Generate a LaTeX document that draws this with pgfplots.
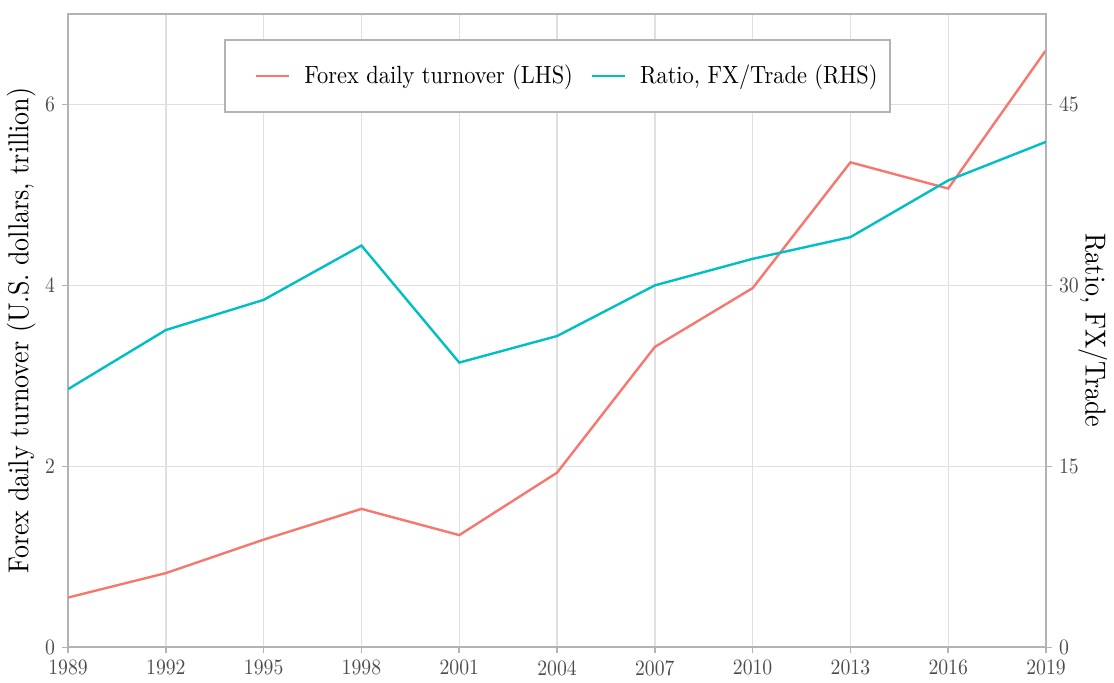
\documentclass[border=0pt]{standalone}
\usepackage{fontspec}
\setmainfont{lmroman10-regular.otf}[FakeStretch=0.9]
\usepackage{pgfplots}
\pgfplotsset{compat=1.18}
\definecolor{fxred}{HTML}{F8766D}
\definecolor{fxcyan}{HTML}{00BFC4}
\definecolor{framegray}{HTML}{B3B3B3}
\definecolor{gridgray}{HTML}{E0E0E0}
\definecolor{tickgray}{HTML}{4D4D4D}

\pgfplotsset{
  fxbase/.style={
    scale only axis, width=491pt, height=318pt,
    xmin=1989, xmax=2019,
    tick align=outside, major tick length=3pt,
    every tick/.style={framegray, line width=0.8pt},
    tick label style={font=\fontsize{11}{13}\selectfont, color=tickgray},
    /pgf/number format/assume math mode=true,
    /pgf/number format/1000 sep={},
    label style={font=\fontsize{14.5}{16}\selectfont},
  },
}

\begin{document}
\begin{tikzpicture}
\begin{axis}[fxbase, name=ax,
  ymin=0, ymax=7,
  xtick={1989,1992,...,2019}, ytick={0,2,4,6},
  xtick pos=bottom, ytick pos=left,
  axis line style={framegray, line width=1pt},
  grid=major, grid style={gridgray, line width=0.7pt},
  ylabel={Forex daily turnover (U.S. dollars, trillion)},
  ylabel style={yshift=-2pt},
]
\addplot[fxred, line width=1.2pt] coordinates {
  (1989,0.55) (1992,0.82) (1995,1.19) (1998,1.53) (2001,1.24) (2004,1.93)
  (2007,3.32) (2010,3.97) (2013,5.36) (2016,5.07) (2019,6.60)
};
\draw[framegray, line width=1.6pt] (rel axis cs:0,0) -- (rel axis cs:1,0);
\end{axis}
\begin{axis}[fxbase,
  ymin=0, ymax=52.5,
  axis x line=none, axis y line*=right,
  axis line style={framegray, line width=1pt, -},
  ytick={0,15,30,45},
  ylabel={Ratio, FX/Trade},
  ylabel style={rotate=180, yshift=-7pt},
  legend style={at={(0.5,0.902)}, anchor=center, legend columns=2,
    draw=framegray, line width=1pt, font=\fontsize{12.5}{15}\selectfont,
    inner xsep=4pt, inner ysep=10.5pt},
  legend cell align=left,
  legend image code/.code={\draw[#1] (0pt,0pt) -- (16.5pt,0pt);},
  /tikz/every odd column/.append style={column sep=5pt},
  /tikz/every even column/.append style={column sep=7pt},
]
\addlegendimage{legend image code/.code={\path (0pt,0pt); \draw[fxred, line width=1.2pt] (11.5pt,0pt) -- (28pt,0pt);}}
\addlegendentry{Forex daily turnover (LHS)}
\addplot[fxcyan, line width=1.2pt] coordinates {
  (1989,21.4) (1992,26.3) (1995,28.8) (1998,33.3) (2001,23.6) (2004,25.8)
  (2007,30.0) (2010,32.2) (2013,34.0) (2016,38.7) (2019,41.9)
};
\addlegendentry{Ratio, FX/Trade (RHS)}
\end{axis}
\path ([yshift=7pt]ax.north);
\end{tikzpicture}
\end{document}
